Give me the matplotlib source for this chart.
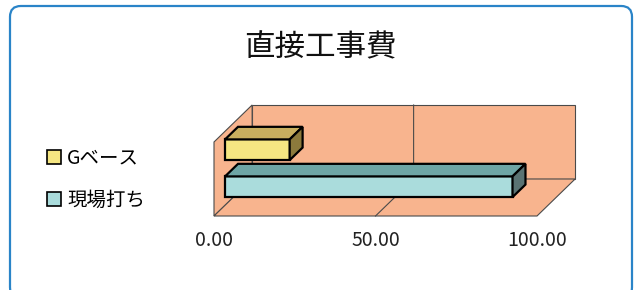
import matplotlib
matplotlib.use('Agg')
import matplotlib.pyplot as plt
from matplotlib.patches import Polygon, FancyBboxPatch
from matplotlib.lines import Line2D

plt.rcParams['font.family'] = ['Noto Sans CJK JP', 'DejaVu Sans']

# データ
title = '直接工事費'
categories = ['現場打ち', 'Gベース']
values = [89.0, 20.0]
xticks = [0, 50, 100]
xtick_labels = ['0.00', '50.00', '100.00']

# 色
wall_color = '#f8b48e'
front_colors = ['#aadcdc', '#f5e682']
top_colors = ['#6ea5a5', '#c8af5f']
side_colors = ['#5a7373', '#8c7a3c']

# 斜投影: 奥行き d (0=手前, 1=奥) をデータ座標のずれに換算
DX = 11.8   # 値の単位
DY = 0.5    # 高さの単位


def proj(v, h, d):
    return (v + DX * d, h + DY * d)


def face(ax, pts, color, lw=0.8, ec='#4a4a4a', z=1):
    ax.add_patch(Polygon([proj(*p) for p in pts], closed=True, facecolor=color,
                         edgecolor=ec, linewidth=lw, clip_on=False, zorder=z))


fig = plt.figure(figsize=(6.34, 2.90), dpi=100)

# 外枠
fig.patches.append(FancyBboxPatch((10 / 634, -8 / 290), 622 / 634, 292 / 290,
                                  boxstyle='round,pad=0,rounding_size=0.017',
                                  mutation_aspect=634 / 290,
                                  transform=fig.transFigure, facecolor='none',
                                  edgecolor='#2a84c8', linewidth=1.6))

ax = fig.add_axes([214 / 634, 74 / 290, 323 / 634, 74 / 290])
ax.set_xlim(0, 100)
ax.set_ylim(0, 1)
ax.patch.set_visible(False)
for s in ax.spines.values():
    s.set_visible(False)
ax.set_yticks([])
ax.set_xticks(xticks)
ax.set_xticklabels(xtick_labels, fontsize=14, color='#222222')
ax.tick_params(axis='x', length=0, pad=10)

vmax = xticks[-1]
# 壁と床
face(ax, [(0, 0, 1), (vmax, 0, 1), (vmax, 1, 1), (0, 1, 1)], wall_color)
face(ax, [(0, 0, 0), (0, 0, 1), (0, 1, 1), (0, 1, 0)], wall_color)
face(ax, [(0, 0, 0), (vmax, 0, 0), (vmax, 0, 1), (0, 0, 1)], wall_color)

# 目盛線
for t in xticks[1:-1]:
    ax.plot(*zip(proj(t, 0, 0), proj(t, 0, 1), proj(t, 1, 1)),
            color='#4a4a4a', lw=0.8, clip_on=False, zorder=1.5)

# 3D横棒
d0, d1 = 0.29, 0.63
hh = 0.14
for i, v in enumerate(values):
    c = 0.25 + 0.5 * i
    lo, hi = c - hh, c + hh
    face(ax, [(0, lo, d0), (v, lo, d0), (v, hi, d0), (0, hi, d0)],
         front_colors[i], lw=1.6, ec='black', z=3)
    face(ax, [(0, hi, d0), (v, hi, d0), (v, hi, d1), (0, hi, d1)],
         top_colors[i], lw=1.6, ec='black', z=3)
    face(ax, [(v, lo, d0), (v, lo, d1), (v, hi, d1), (v, hi, d0)],
         side_colors[i], lw=1.6, ec='black', z=3)

# 凡例
handles = [Line2D([], [], ls='none', marker='s', markersize=10.5,
                  markerfacecolor=front_colors[i], markeredgecolor='black',
                  markeredgewidth=1.2) for i in range(len(categories))][::-1]
fig.legend(handles, categories[::-1], loc='upper left',
           bbox_to_anchor=(37 / 634, 1 - 138 / 290), frameon=False,
           fontsize=14, handlelength=0.75, handletextpad=0.3,
           labelspacing=1.1, borderpad=0)

fig.text(320 / 634, 1 - 48 / 290, title, fontsize=22, ha='center', va='center',
         color='#111111')

fig.savefig('out.png', dpi=100)
